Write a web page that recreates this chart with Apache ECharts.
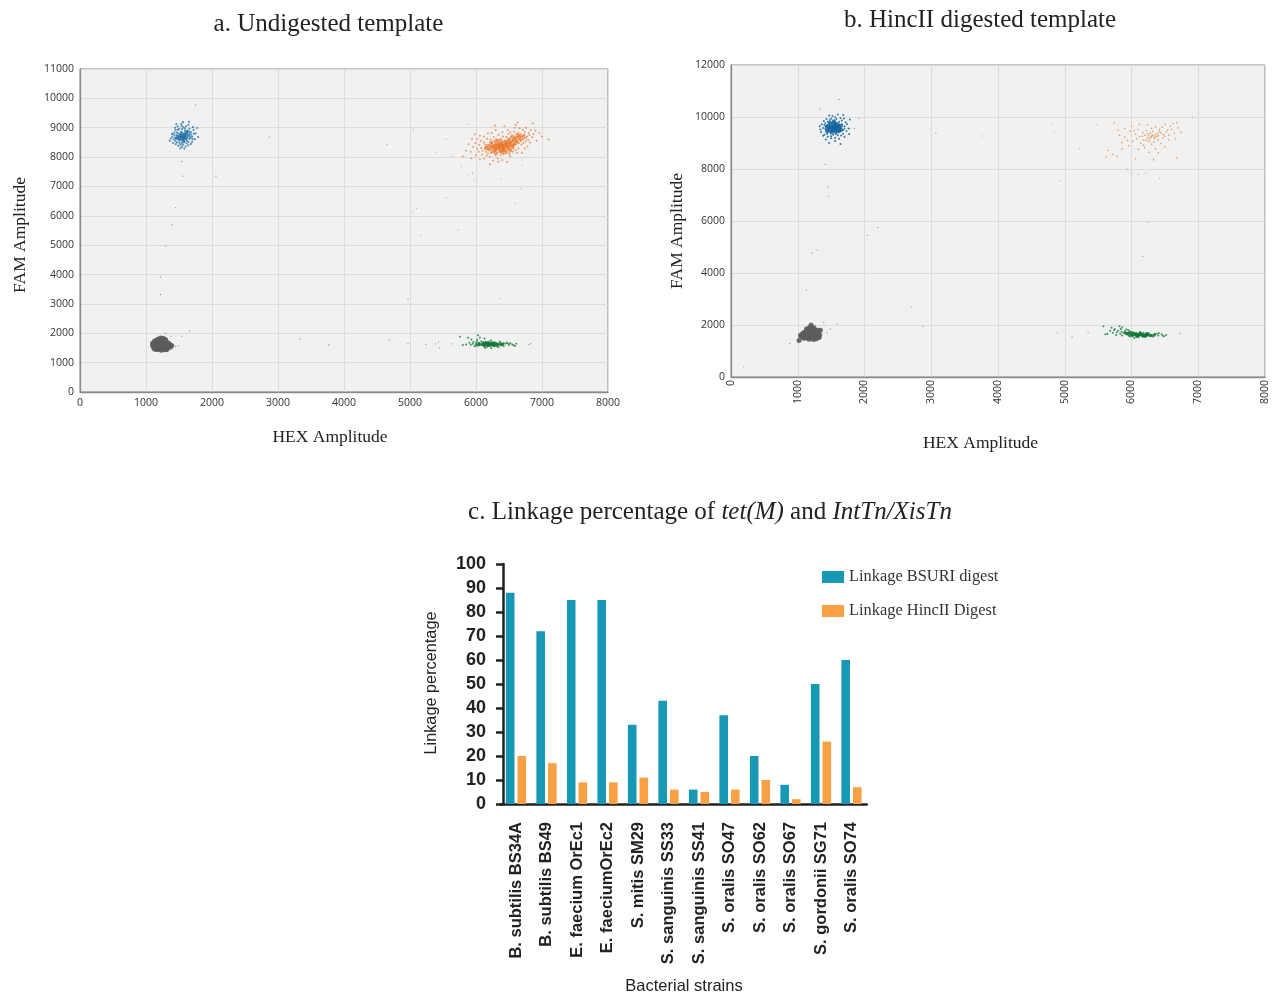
<!DOCTYPE html>
<html><head><meta charset="utf-8">
<style>html,body{margin:0;padding:0;background:#fff}#c{width:1274px;height:994px}</style>
<script src="https://cdn.jsdelivr.net/npm/echarts@6/dist/echarts.min.js"></script>
</head><body><div id="c"></div>
<script>
const strains = ['B. subtilis BS34A','B. subtilis BS49','E. faecium OrEc1','E. faeciumOrEc2','S. mitis SM29','S. sanguinis SS33','S. sanguinis SS41','S. oralis SO47','S. oralis SO62','S. oralis SO67','S. gordonii SG71','S. oralis SO74'];
const linkageBsuri = [88,72,85,85,33,43,6,37,20,8,50,60];
const linkageHincII = [20,17,9,9,11,6,5,6,10,2,26,7];

const aBlue = [[1560,8700],[1580,8650],[1540,8720],[1600,8760],[1520,8640],[1570,8800],[1610,8690],[1500,8700],[1550,8580],[1630,8820],[1480,8620],[1590,8900],[1650,8760],[1460,8740],[1530,8860],[1680,8850],[1440,8660],[1510,8480],[1620,8560],[1700,8700],[1420,8600],[1560,8420],[1590,8980],[1500,8960],[1720,8930],[1400,8700],[1470,8500],[1660,8620],[1540,9060],[1640,9100],[1480,9040],[1750,8800],[1380,8640],[1450,8920],[1600,8360],[1520,8300],[1790,8680],[1410,8480],[1700,8520],[1560,9190],[1650,9200],[1460,9120],[1570,8640],[1535,8690],[1585,8730],[1555,8770],[1515,8760],[1625,8640],[1605,8850],[1495,8800],[1575,8560],[1470,8830],[1680,8660],[1430,8830],[1545,8950],[1615,8470],[1490,8390],[1740,8610],[1360,8560],[1660,8970],[1580,8290],[1770,8990],[1550,8650],[1590,8690],[1530,8610],[1565,8740],[1425,8760],[1445,8550],[1465,8660],[1485,8930],[1505,8560],[1525,8420],[1545,8350],[1565,9010],[1585,8510],[1605,9050],[1625,8900],[1645,8520],[1665,8820],[1685,8760],[1705,8610],[1725,8800],[1450,8440],[1395,8790],[1710,9020],[1440,9000],[1640,8400],[1680,8450],[1535,9130],[1600,8610]];
const aBlueCore = [[1550,8680],[1580,8720],[1520,8700],[1600,8640],[1560,8620],[1530,8760],[1590,8790],[1500,8650],[1620,8740],[1570,8560],[1480,8720],[1610,8840],[1540,8820],[1650,8710],[1510,8600],[1640,8880],[1460,8640],[1550,8500]];
const aOrange = [[6400,8400],[6350,8350],[6450,8450],[6300,8300],[6420,8320],[6380,8480],[6480,8380],[6330,8420],[6260,8360],[6520,8500],[6400,8260],[6440,8560],[6200,8420],[6280,8220],[6560,8600],[6620,8680],[6700,8720],[6580,8440],[6360,8180],[6500,8280],[6150,8340],[6120,8500],[6680,8560],[6760,8640],[6640,8820],[6540,8740],[6460,8680],[6220,8600],[6100,8220],[6050,8420],[6300,8050],[6420,8100],[6180,8120],[6560,8180],[6720,8480],[6800,8820],[6850,8680],[6900,8900],[6660,8980],[6600,9100],[6480,8920],[6340,8760],[6240,8820],[6120,8700],[6020,8620],[5960,8340],[5920,8180],[6000,8060],[6120,7950],[6260,7880],[6400,7900],[6520,8020],[6640,8300],[6780,8360],[6920,8560],[7000,8700],[7100,8600],[6960,8820],[6760,9000],[6860,9150],[6630,9180],[6430,9050],[6290,9080],[5980,8780],[5850,8220],[5800,8020],[5930,7960],[6210,7760],[6470,7830],[6700,8140],[6580,8860],[6740,8850],[6380,8620],[6320,8560],[6500,8620],[6560,8360],[6620,8520],[6440,8200],[6240,8480],[6180,8260],[6080,8300],[6350,8280],[6470,8340],[6410,8510],[6370,8390],[6430,8370],[6340,8460],[6390,8320],[6460,8410],[6310,8380],[6290,8450],[6510,8440],[6360,8440],[6420,8440],[6250,8280],[6500,8360],[6390,8540],[6550,8530],[6650,8610],[6720,8620],[6590,8660],[6680,8780],[6530,8220],[6150,8180],[6320,8140],[6070,8560],[5890,8440],[6600,8230],[6820,8500],[6040,8180],[6090,8080],[6140,8420],[6170,8620],[6210,8010],[6230,8150],[6270,8680],[6310,8620],[6330,7960],[6370,8060],[6410,8700],[6450,8130],[6490,8790],[6510,8140],[6530,8680],[6570,8290],[6610,8780],[6650,8470],[6670,8690],[6690,8420],[6730,8760],[6750,8540],[6770,8700],[6790,8580],[6810,8740],[6830,8920],[6870,8790],[6710,8930],[6590,9000],[6520,8850],[6400,8850],[6300,8920],[6180,8800],[6060,8730],[5990,8480],[5940,8620],[6020,8280],[6060,7920],[6160,8050],[6340,7840],[6500,8090],[6620,8140],[6740,8290]];
const aOrangeCore = [[6400,8380],[6350,8320],[6450,8420],[6300,8280],[6430,8300],[6380,8460],[6480,8360],[6330,8400],[6270,8340],[6510,8470],[6400,8240],[6440,8520],[6240,8400],[6290,8230],[6540,8540],[6600,8640],[6660,8680],[6570,8420],[6370,8200],[6490,8280],[6220,8320],[6360,8360],[6420,8350],[6460,8460],[6320,8450],[6390,8420],[6340,8280],[6420,8250],[6280,8390],[6530,8400],[6580,8570],[6620,8540],[6480,8520],[6550,8350],[6200,8260],[6180,8380],[6230,8500],[6290,8540],[6350,8560],[6400,8160],[6460,8180],[6520,8240],[6300,8140],[6600,8460],[6680,8600],[6720,8700],[6640,8740],[6560,8680],[6500,8600],[6150,8300],[6250,8180]];
const aGray = [[1230,1600],[1200,1580],[1260,1620],[1180,1620],[1280,1580],[1220,1680],[1250,1540],[1160,1560],[1300,1640],[1140,1600],[1320,1600],[1210,1500],[1270,1720],[1190,1720],[1120,1540],[1340,1560],[1240,1780],[1170,1480],[1290,1500],[1110,1620],[1350,1650],[1210,1800],[1270,1440],[1200,1450],[1130,1680],[1310,1700],[1260,1830],[1160,1760],[1370,1520],[1100,1580],[1240,1660],[1200,1660],[1250,1580],[1170,1660],[1300,1540],[1150,1520],[1220,1540],[1190,1540],[1280,1680],[1230,1740],[1330,1520],[1230,1420],[1300,1760],[1390,1580],[1120,1480],[1140,1460],[1160,1450],[1240,1480],[1320,1460],[1300,1440],[1340,1640],[1360,1590],[1290,1790],[1180,1800],[1220,1840],[1130,1740],[1100,1660],[1260,1480]];
const aGreen = [[6200,1620],[6150,1600],[6250,1640],[6100,1650],[6300,1590],[6180,1680],[6220,1570],[6050,1620],[6350,1630],[6000,1660],[6400,1610],[6120,1550],[6280,1690],[5950,1640],[6450,1650],[6170,1530],[6320,1560],[5900,1680],[6500,1600],[6080,1720],[6230,1750],[5850,1620],[6550,1620],[6020,1780],[6590,1570],[6130,1820],[5980,1560],[5800,1600],[6360,1720],[6060,1860],[5930,1790],[6470,1680],[6190,1640],[6240,1600],[6160,1650],[6210,1580],[6270,1620],[6130,1610],[6090,1600],[6330,1650],[6060,1590],[6380,1580],[6260,1560],[5760,1880],[6030,1930],[5880,1850],[6140,1500],[6420,1570],[6520,1660],[5960,1700],[6010,1720],[5990,1590],[5920,1610],[6110,1700],[6150,1710],[6200,1720],[6040,1680],[6300,1680],[6420,1660],[6490,1640],[6570,1590],[6610,1640],[6230,1500],[6340,1520]];
const aGreenCore = [[6100,1620],[6150,1640],[6200,1600],[6250,1620],[6300,1630],[6050,1640],[6180,1590],[6230,1650],[6280,1580],[6330,1600],[6130,1580],[6370,1640],[6020,1600],[6170,1670],[6260,1670],[6400,1630],[6210,1640],[6120,1660]];
const aOutGray = [[1750,9780],[2870,8680],[2060,7350],[1560,7350],[1540,7850],[1450,6280],[1390,5700],[1300,4970],[1220,3920],[1220,3320],[1660,2080],[1300,2000],[1380,1900],[1540,1900],[1450,1550],[1490,1580],[3330,1800],[3770,1600],[4680,1770],[4970,1650],[4970,3170],[5240,1620],[5380,1640],[5430,1700],[5450,1500],[5630,1640],[6830,1650],[6800,1620]];
const aOutOrange = [[4650,8420],[5050,8950],[5550,8600],[5400,8170],[5640,8020],[5880,9120],[5780,7680],[5880,7400],[5970,7200],[5950,7450],[6380,7250],[6700,7720],[6680,6930],[6590,6430],[5550,6610],[5100,6250],[5040,6120],[5160,5330],[5730,5520],[6360,3180]];

const bBlue = [[1540,9600],[1560,9560],[1520,9640],[1580,9620],[1500,9580],[1550,9700],[1600,9540],[1480,9660],[1530,9480],[1620,9680],[1460,9560],[1570,9760],[1640,9580],[1440,9640],[1510,9780],[1590,9440],[1660,9720],[1420,9500],[1490,9400],[1680,9500],[1400,9680],[1550,9860],[1620,9820],[1450,9820],[1700,9640],[1380,9580],[1530,9320],[1600,9300],[1440,9360],[1720,9800],[1360,9720],[1500,9940],[1640,9960],[1560,10000],[1680,9360],[1400,9320],[1760,9560],[1340,9520],[1470,10060],[1600,10100],[1680,10080],[1780,9900],[1500,9180],[1620,9160],[1420,9130],[1560,9080],[1470,9000],[1640,8960],[1540,9540],[1510,9620],[1570,9680],[1535,9650],[1590,9590],[1490,9620],[1610,9610],[1550,9630],[1525,9560],[1565,9510],[1470,9720],[1630,9470],[1410,9760],[1730,9460],[1330,9640],[1660,9870],[1500,9260],[1560,9200],[1545,9790],[1460,9460],[1390,9850],[1430,9920],[1520,10040],[1580,9920],[1650,9290],[1700,9230],[1350,9420],[1380,9280],[1450,9240],[1740,9720],[1770,9350],[1690,9940],[1570,9350],[1610,9400],[1480,9880],[1420,9640],[1700,9560]];
const bBlueCore = [[1540,9600],[1500,9620],[1580,9580],[1520,9540],[1560,9660],[1470,9580],[1610,9640],[1540,9480],[1520,9720],[1590,9500],[1450,9660],[1630,9560],[1560,9760],[1490,9480],[1600,9720],[1430,9560],[1650,9660],[1510,9400],[1570,9420],[1480,9780],[1620,9460],[1540,9840],[1650,9500],[1440,9440]];
const bOrange = [[6300,9250],[6360,9320],[6240,9200],[6400,9280],[6280,9380],[6200,9300],[6340,9160],[6440,9380],[6180,9120],[6260,9060],[6480,9320],[6120,9240],[6400,9120],[6320,9440],[6220,9480],[6520,9420],[6060,9340],[6560,9300],[6100,9520],[6300,8960],[6180,8920],[6440,8980],[6020,9060],[6600,9520],[6640,9380],[6700,9580],[6740,9420],[6360,9620],[6240,9700],[6120,9720],[5980,9460],[5900,9240],[5820,9300],[5740,9780],[6500,9720],[6620,9750],[6680,9780],[5860,9020],[5960,8900],[6100,8760],[6260,8640],[6360,8780],[6500,8860],[6680,8420],[6060,8400],[5650,8720],[5720,8560],[5780,8480],[5860,8780],[5620,8460],[6330,8360],[6240,9350],[6350,9220],[6310,9300],[6270,9160],[6390,9360],[6170,9400],[6470,9200],[6560,9120],[6140,9000],[6000,9640],[5800,9500],[6340,9040],[6420,9520],[6290,9220],[6330,9270],[6260,9280],[6380,9240],[6220,9100],[6160,9260],[6420,9440],[6500,9260],[6540,9500],[6080,9160],[6040,9480],[6300,9560],[6460,9620],[6580,9660],[6200,8820],[6400,8620],[5940,9100],[5900,9560],[6660,9160]];
const bGray = [[1190,1650],[1160,1620],[1220,1680],[1140,1680],[1240,1600],[1180,1740],[1210,1560],[1120,1600],[1260,1660],[1100,1650],[1280,1620],[1170,1520],[1230,1780],[1150,1800],[1080,1580],[1300,1580],[1200,1860],[1130,1500],[1250,1500],[1060,1640],[1310,1680],[1190,1930],[1240,1440],[1170,1450],[1090,1710],[1280,1740],[1220,1840],[1260,1820],[1040,1600],[1320,1520],[1190,1590],[1150,1560],[1210,1620],[1250,1720],[1160,1700],[1120,1740],[1200,2000],[1340,1800],[1330,1620],[1100,1520],[1020,1400],[1200,1490],[1090,1490],[1060,1550],[1280,1470],[1300,1800],[1170,1880],[1130,1850],[1240,1900],[1290,1530]];
const bGreen = [[6100,1640],[6050,1620],[6150,1660],[6000,1650],[6200,1610],[6080,1680],[6120,1590],[5950,1700],[6250,1640],[5900,1680],[6300,1620],[6020,1570],[6180,1700],[5850,1740],[6350,1650],[6070,1540],[6220,1580],[5800,1780],[6400,1600],[5970,1760],[6130,1730],[5750,1850],[6450,1640],[5920,1830],[6490,1570],[5860,1900],[5980,1560],[5700,1890],[6260,1690],[5820,1950],[5720,1700],[5640,1650],[5580,1950],[5770,1620],[5860,1600],[5680,1780],[5610,1640],[6090,1620],[6140,1630],[6060,1660],[6110,1580],[6170,1620],[6030,1610],[5990,1620],[6230,1660],[5960,1590],[6280,1580],[6160,1560],[6320,1560],[6380,1660],[6520,1620],[5780,1720],[5900,1760],[6040,1500],[5740,1810],[5840,1850],[5880,1700],[5830,1660],[5930,1640],[6010,1720],[5950,1810],[6410,1690],[6470,1590],[6210,1530],[6100,1530]];
const bGreenCore = [[6000,1620],[6050,1650],[6100,1610],[6150,1640],[6200,1600],[6250,1620],[5950,1650],[6080,1590],[6130,1670],[6180,1580],[6030,1680],[6230,1650],[6290,1600],[5980,1700],[6340,1620],[6070,1640],[6120,1630],[6170,1610],[6220,1640],[5920,1680]];
const bOutGray = [[1620,10680],[1330,10300],[1920,9950],[1850,9550],[1780,9550],[1410,8170],[1450,7320],[1460,6950],[3070,9380],[2200,5750],[2050,5450],[1290,4880],[1210,4780],[1130,3340],[2700,2690],[2870,1950],[6170,4640],[190,400],[880,1290],[1390,2100],[1590,2040],[1490,1850],[1440,1700],[4890,1700],[5110,1540],[5350,1700],[6730,1680]];
const bOutOrange = [[3760,9270],[4800,9720],[4840,9420],[4920,7540],[5480,9700],[5220,8780],[6260,5950],[6910,10000],[5990,7830],[6100,7800],[5930,8000],[6210,7840],[6420,7640]];

const tickFont = '"Open Sans"';
const serif = '"Liberation Serif"';
const sans = '"Liberation Sans"';

function scatterAxis(grid, max, interval, rotate){
  return {gridIndex:grid,type:'value',min:0,max:max,interval:interval,
    axisLine:{show:true,onZero:false,lineStyle:{color:'#8a8a8a',width:1.3}},
    axisTick:{show:false},
    axisLabel:{color:'#333',fontFamily:tickFont,fontSize:10.5,margin:rotate?3:6,rotate:rotate||0,showMinLabel:true,showMaxLabel:true,hideOverlap:false,formatter:v=>String(v)},
    splitLine:{show:true,lineStyle:{color:'#dcdcde',width:1}}};
}
function pts(grid,data,color,size,op){
  return {type:'scatter',xAxisIndex:grid,yAxisIndex:grid,data:data,symbolSize:size,silent:true,
    itemStyle:{color:color,opacity:op},z:3};
}
function label(text,x,y,font,size,rot){
  return {type:'text',x:x,y:y,rotation:rot||0,silent:true,
    style:{text:text,font:size+'px '+font,fill:'#222',textAlign:'center',textVerticalAlign:'middle'}};
}
const chart = echarts.init(document.getElementById('c'),null,{renderer:'canvas'});
chart.setOption({
  animation:false,backgroundColor:'#fff',
  title:[
    {text:'a. Undigested template',left:328.5,top:24,padding:0,textAlign:'center',textVerticalAlign:'middle',textStyle:{fontFamily:serif,fontSize:25,fontWeight:'normal',color:'#222'}},
    {text:'b. HincII digested template',left:980,top:20,padding:0,textAlign:'center',textVerticalAlign:'middle',textStyle:{fontFamily:serif,fontSize:25,fontWeight:'normal',color:'#222'}},
    {text:'{n|c. Linkage percentage of }{i|tet(M)}{n| and }{i|IntTn/XisTn}',left:710,top:512,padding:0,textAlign:'center',textVerticalAlign:'middle',
     textStyle:{fontWeight:'normal',rich:{n:{fontFamily:serif,fontSize:25,fontWeight:'normal',color:'#222'},i:{fontFamily:serif,fontSize:25,fontWeight:'normal',fontStyle:'italic',color:'#222'}}}}
  ],
  grid:[
    {left:80,top:69,width:528,height:323,show:true,backgroundColor:'#f1f1f1',borderColor:'#8a8a8a',borderWidth:1},
    {left:731,top:65,width:534,height:312,show:true,backgroundColor:'#f1f1f1',borderColor:'#8a8a8a',borderWidth:1},
    {left:500.75,top:564,width:366,height:240}
  ],
  xAxis:[
    scatterAxis(0,8000,1000),
    scatterAxis(1,8000,1000,90),
    {gridIndex:2,type:'category',data:strains,
     axisLine:{lineStyle:{color:'#222',width:2.5}},
     axisTick:{alignWithLabel:true,length:9,lineStyle:{color:'#222',width:2.5}},
     axisLabel:{interval:0,rotate:90,margin:18,color:'#222',fontFamily:sans,fontSize:16.5,fontWeight:'bold'},
     splitLine:{show:false}}
  ],
  yAxis:[
    scatterAxis(0,11000,1000),
    scatterAxis(1,12000,2000),
    {gridIndex:2,type:'value',min:0,max:100,interval:10,offset:-2.25,
     axisLine:{show:true,lineStyle:{color:'#222',width:2.5}},
     axisTick:{show:true,length:7,lineStyle:{color:'#222',width:2.5}},
     axisLabel:{color:'#222',fontFamily:sans,fontSize:18,fontWeight:'bold',margin:17},
     splitLine:{show:false}}
  ],
  legend:{data:['Linkage BSURI digest','Linkage HincII Digest'],orient:'vertical',left:822,top:569,padding:0,itemWidth:22,itemHeight:12,itemGap:18,
    textStyle:{fontFamily:serif,fontSize:16.4,color:'#333'},icon:'rect'},
  series:[
    pts(0,aGray,'#5c5c5c',5,0.9),
    pts(0,aBlue,'#2b78ab',2.2,0.8),
    pts(0,aBlueCore,'#1f6ea3',3,0.7),
    pts(0,aOrange,'#ea7f35',2,0.75),
    pts(0,aOrangeCore,'#ea6f1e',4,0.6),
    pts(0,aGreen,'#107a3a',2,0.8),
    pts(0,aGreenCore,'#0f7635',3.5,0.8),
    pts(0,aOutGray,'#666',1.3,0.7),
    pts(0,aOutOrange,'#d98a50',1.3,0.7),
    pts(1,bGray,'#5c5c5c',5,0.9),
    pts(1,bBlue,'#11639f',2,0.85),
    pts(1,bBlueCore,'#11639f',4,0.8),
    pts(1,bOrange,'#e2924f',1.7,0.8),
    pts(1,bGreen,'#107a3a',2,0.8),
    pts(1,bGreenCore,'#0f7635',3.5,0.85),
    pts(1,bOutGray,'#666',1.3,0.7),
    pts(1,bOutOrange,'#d98a50',1.3,0.7),
    {type:'bar',name:'Linkage BSURI digest',xAxisIndex:2,yAxisIndex:2,data:linkageBsuri,barWidth:8.6,barGap:'35%',itemStyle:{color:'#1799b5'}},
    {type:'bar',name:'Linkage HincII Digest',xAxisIndex:2,yAxisIndex:2,data:linkageHincII,barWidth:8.6,barGap:'35%',itemStyle:{color:'#f8a044'}}
  ],
  graphic:[
    label('FAM Amplitude',20,235,serif,17.5,Math.PI/2),
    label('HEX Amplitude',330,437,serif,17.5),
    label('FAM Amplitude',677,231,serif,17.5,Math.PI/2),
    label('HEX Amplitude',980.5,443,serif,17.5),
    label('Linkage percentage',432,683,sans,16.3,Math.PI/2),
    label('Bacterial strains',684,986,sans,16.5)
  ]
});
</script></body></html>
